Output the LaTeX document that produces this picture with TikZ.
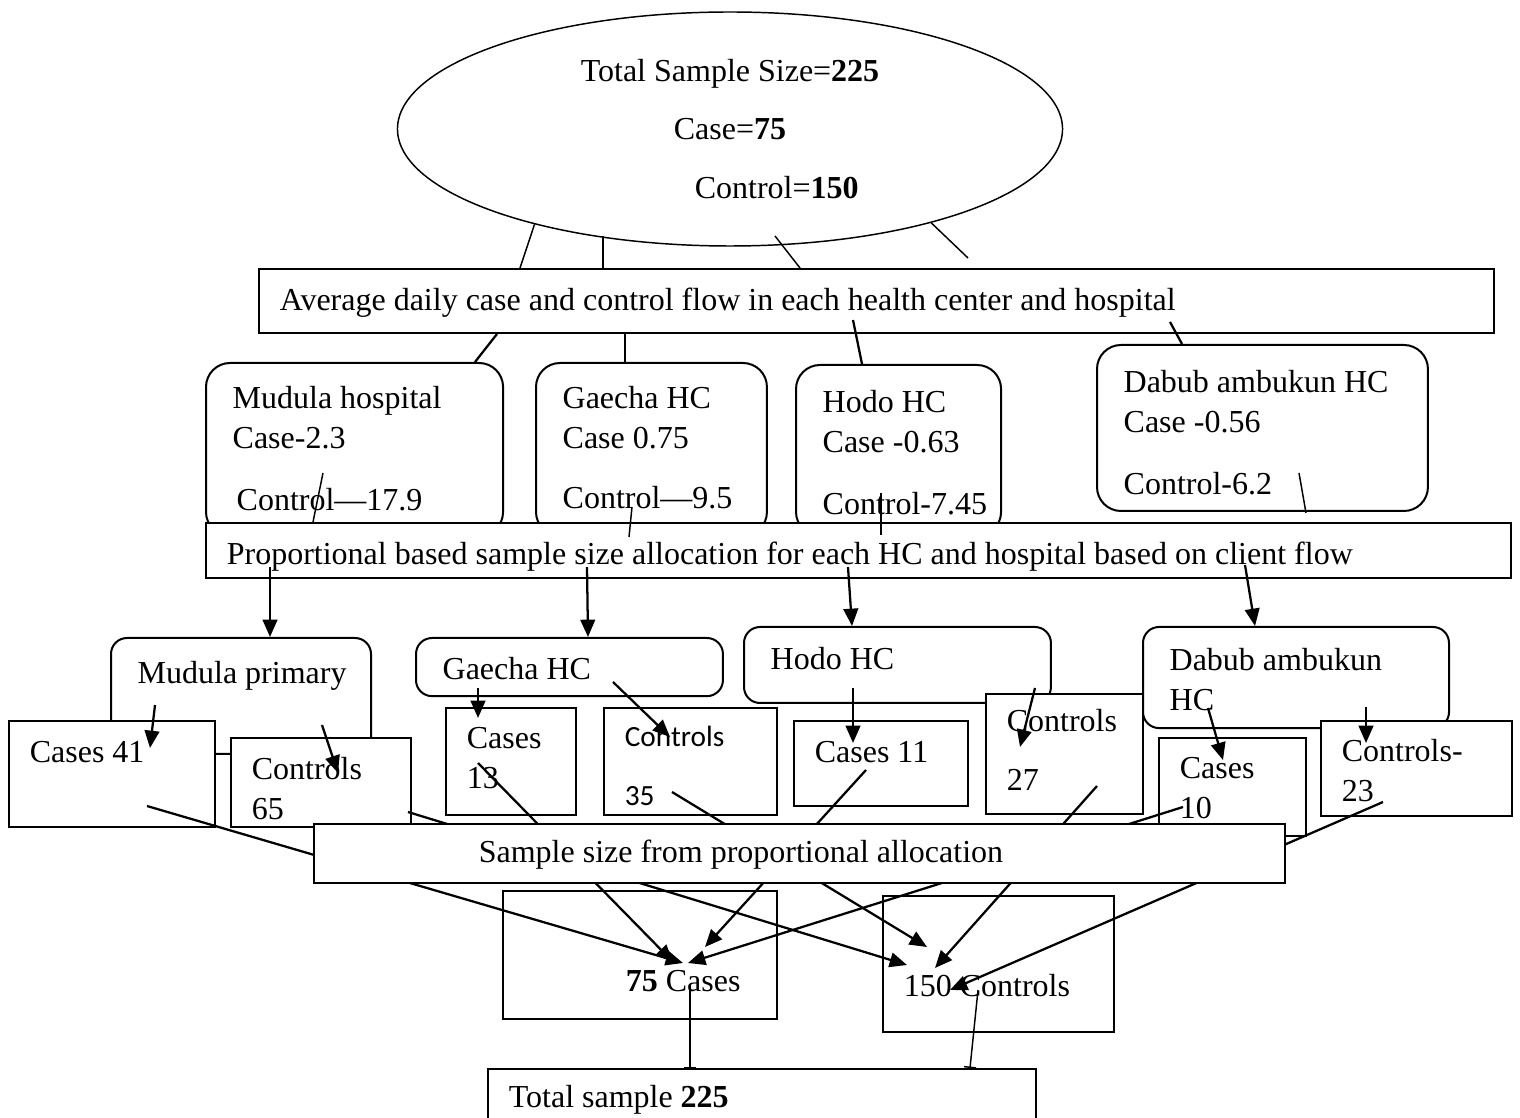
\documentclass[tikz,border=0pt]{standalone}
\usepackage{fontspec}
\setmainfont{Liberation Serif}
\newfontfamily\calibri{Carlito}
\usetikzlibrary{shapes.geometric,arrows.meta,calc}

\tikzset{
  cellbox/.style={draw, line width=0.75pt, fill=white, anchor=north west,
    align=left, inner xsep=7.8pt, inner ysep=0pt,
    execute at begin node={\spaceskip=0pt\xspaceskip=0pt\relax}},
  sitebox/.style={cellbox, rounded corners=9pt, inner xsep=10pt},
  link/.style={line width=0.85pt},
  thin link/.style={line width=0.55pt}
}

\begin{document}
\begin{tikzpicture}[x=0.375pt, y=-0.375pt,
    >={Triangle[length=6.5pt,width=5.5pt]},
    every node/.style={font=\fontsize{12}{15}\selectfont}]
    \useasboundingbox (0,0) rectangle (1520,1118);
    \clip (0,0) rectangle (1520,1118);

    \node[draw, ellipse, line width=0.55pt, inner sep=0pt, minimum width=249.4pt,
      minimum height=87.75pt, align=center] (top) at (730,129)
      {Total Sample Size=\textbf{225}\\[7pt]Case=\textbf{75}\\[7pt]\hspace*{35pt}Control=\textbf{150}};
    \node[cellbox, text width=447.5pt, text height=15.75pt, text depth=8.25pt] (flow) at (258,268)
      {Average daily case and control flow in each health center and hospital};

    \draw[thin link] (top.206) -- ($(flow.north west)+(262,0)$);
    \draw[thin link] ($(top.center)+(-127,107)$) -- ($(flow.north west)+(345,0)$);
    \draw[thin link] ($(top.center)+(45,107)$) -- ($(flow.north west)+(542,0)$);
    \draw[thin link] (top.335) -- ($(flow.north west)+(710,-10)$);

    % daily flow per site
    \node[sitebox, text width=91.4pt, text height=17.25pt, text depth=47.6pt] (h1) at (205,362)
      {Mudula hospital\\Case-2.3\\[8pt]\hspace*{1.5pt}Control—17.9};
    \node[sitebox, text width=66.6pt, text height=17.25pt, text depth=47.6pt] (h2) at (535,362)
      {Gaecha HC\\Case 0.75\\[7.5pt]\mbox{Control—9.5}};
    \node[sitebox, text width=56.9pt, text height=18pt, text depth=46.1pt] (h3) at (795,364)
      {Hodo HC\\Case -0.63\\[8pt]\mbox{Control-7.45}};
    \node[sitebox, text width=104.1pt, text height=18pt, text depth=44.25pt] (h4) at (1096,344)
      {Dabub ambukun HC\\Case -0.56\\[8pt]Control-6.2};

    \draw[link] ($(flow.south west)+(239,0)$) -- ($(h1.north west)+(270,0)$);
    \draw[link] ($(flow.south west)+(367,0)$) -- ($(h2.north west)+(90,0)$);
    \draw[link] ($(flow.south west)+(595,-14)$) -- ($(h3.north west)+(67,0)$);
    \draw[link] ($(flow.south west)+(912,-12)$) -- ($(h4.north west)+(86,0)$);

    \node[cellbox, text width=473.8pt, text height=15.4pt, text depth=5.25pt] (alloc) at (205,522)
      {Proportional based sample size allocation for each HC and hospital based on client flow};

    \draw[thin link] ($(h1.north west)+(118,111)$) -- ($(alloc.north west)+(108,0)$);
    \draw[thin link] ($(h2.north west)+(97,145)$) -- ($(alloc.north west)+(424,15)$);
    \draw[thin link] ($(h3.north west)+(86,129)$) -- ($(alloc.north west)+(676,13)$);
    \draw[thin link] ($(h4.north west)+(203,129)$) -- ($(alloc.north west)+(1101,-9)$);

    % allocation per site
    \node[sitebox, rounded corners=6pt, text width=77.5pt, text height=16.9pt, text depth=26.6pt] (s1) at (110,637)
      {\mbox{Mudula primary}};
    \node[sitebox, rounded corners=6pt, text width=95.1pt, text height=15.4pt, text depth=6.4pt] (s2) at (415,637)
      {Gaecha HC};
    \node[sitebox, rounded corners=6pt, text width=95.1pt, text height=16.1pt, text depth=12.4pt] (s3) at (743,626)
      {Hodo HC};
    \node[sitebox, rounded corners=6pt, text width=94.75pt, text height=16.5pt, text depth=21.4pt] (s4) at (1142,626)
      {Dabub ambukun\\HC};

    \draw[->, link] ($(alloc.south west)+(65,-12)$) -- ($(s1.north west)+(160,0)$);
    \draw[->, link] ($(alloc.south west)+(382,-12)$) -- ($(s2.north west)+(173,0)$);
    \draw[->, link] ($(alloc.south west)+(643,-12)$) -- ($(s3.north west)+(109,0)$);
    \draw[->, link] ($(alloc.south west)+(1040,-14)$) -- ($(s4.north west)+(113,0)$);

    \node[cellbox, text width=61.65pt, text height=15.4pt, text depth=24.4pt] (ca1) at (8,720) {Cases 41};
    \node[cellbox, text width=51.9pt, text height=15.4pt, text depth=18pt] (co1) at (230,737) {Controls\\65};
    \node[cellbox, text width=33.15pt, text height=15pt, text depth=25.1pt] (ca2) at (445,707) {Cases\\13};
    \node[cellbox, text width=49.3pt, text height=14.6pt, text depth=25.5pt,
      font=\calibri\fontsize{11}{14.5}\selectfont] (co2) at (603,707) {Controls\\[7.5pt]35};
    \node[cellbox, text width=49.65pt, text height=15.4pt, text depth=16.5pt] (ca3) at (793,720) {Cases 11};
    \node[cellbox, text width=43.3pt, text height=14.25pt, text depth=30.75pt] (co3) at (985,693) {Controls\\[7pt]27};
    \node[cellbox, text width=39.5pt, text height=15pt, text depth=21.75pt] (ca4) at (1158,737) {Cases\\10};
    \node[cellbox, text width=56pt, text height=15pt, text depth=20.6pt] (co4) at (1320,720) {Controls-\\23};

    \draw[->, link] ($(s1.north west)+(45,68)$) -- ($(ca1.north west)+(142,28)$);
    \draw[->, link] ($(s1.north west)+(212,88)$) -- ($(co1.north west)+(108,36)$);
    \draw[->, link] ($(s2.north west)+(63,51)$) -- ($(ca2.north west)+(33,11)$);
    \draw[->, link] ($(s2.north west)+(198,45)$) -- ($(co2.north west)+(67,30)$);
    \draw[->, link] ($(s3.north west)+(110,62)$) -- ($(ca3.north west)+(60,23)$);
    \draw[->, link] ($(s3.north west)+(292,62)$) -- ($(co3.north west)+(35,54)$);
    \draw[->, link] ($(s4.north west)+(66,82)$) -- ($(ca4.north west)+(65,23)$);
    \draw[->, link] ($(s4.north west)+(224,81)$) -- ($(co4.north west)+(46,23)$);

    % pooled totals
    \node[cellbox, fill=none, text width=87.15pt, text height=37.5pt, text depth=10.5pt] (cases) at (502,890)
      {\hspace*{38.25pt}\textbf{75} Cases};
    \node[cellbox, fill=none, text width=71pt, text height=37.5pt, text depth=13.5pt] (controls) at (882,895)
      {150 Controls};

    \draw[->, link] ($(ca1.north west)+(139,86)$) -- ($(cases.north west)+(181,73)$);
    \draw[->, link] ($(ca2.north west)+(33,56)$) -- ($(cases.north west)+(171,72)$);
    \draw[->, link] ($(ca3.north west)+(73,50)$) -- ($(cases.north west)+(203,57)$);
    \draw[->, link] ($(ca4.north west)+(25,70)$) -- ($(cases.north west)+(186,73)$);
    \draw[->, link] ($(co1.north west)+(178,75)$) -- ($(controls.north west)+(25,70)$);
    \draw[->, link] ($(co2.north west)+(69,85)$) -- ($(controls.north west)+(45,52)$);
    \draw[->, link] ($(co3.north west)+(112,93)$) -- ($(controls.north west)+(53,73)$);
    \draw[->, link] ($(co4.north west)+(63,82)$) -- ($(controls.north west)+(68,95)$);

    \node[cellbox, text width=348.5pt, text height=14.6pt, text depth=7.5pt] (size) at (313,823)
      {\hspace*{54pt}Sample size from proportional allocation};

    \node[cellbox, text width=189.9pt, text height=14.6pt, text depth=12.4pt] (sum) at (487,1068)
      {Total sample \textbf{225}};

    \draw[-{Bar[width=4.5pt]}, thin link] ($(cases.north west)+(188,95)$) -- ($(sum.north west)+(203,0)$);
    \draw[-{Bar[width=4.5pt]}, thin link] ($(controls.north west)+(96,95)$) -- ($(sum.north west)+(483,0)$);
  \end{tikzpicture}
\end{document}
